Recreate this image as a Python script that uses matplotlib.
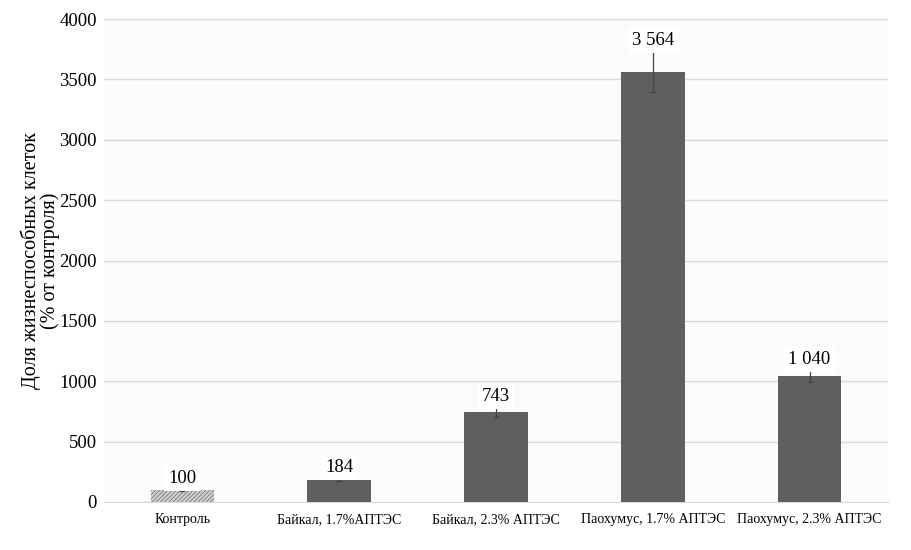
import matplotlib
matplotlib.use("Agg")
import matplotlib.pyplot as plt
import numpy as np

categories = ["Контроль", "Байкал, 1.7%АПТЭС", "Байкал, 2.3% АПТЭС",
              "Паохумус, 1.7% АПТЭС", "Паохумус, 2.3% АПТЭС"]
values = [100, 184, 743, 3564, 1040]
errors = [6, 10, 40, 170, 50]
value_labels = ["100", "184", "743", "3 564", "1 040"]
yticks = [0, 500, 1000, 1500, 2000, 2500, 3000, 3500, 4000]

plt.rcParams['font.family'] = ['Liberation Serif', 'DejaVu Serif']
plt.rcParams['hatch.linewidth'] = 0.6

fig = plt.figure(figsize=(9.12, 5.5), dpi=100)
ax = fig.add_axes([104/912, 48/550, (888-104)/912, (502-19)/550])
ax.set_facecolor('#fbfbfb')
fig.patch.set_facecolor('white')

x = np.arange(len(categories))
colors = ['#d0d0d0'] + ['#5f5f5f'] * 4
bars = ax.bar(x, values, width=0.405, color=colors, zorder=3)
bars[0].set_hatch('////////')
bars[0].set_edgecolor('#7a7a7a')
bars[0].set_linewidth(0)
ax.errorbar(x, values, yerr=errors, fmt='none', ecolor='#444444',
            elinewidth=0.9, capsize=2, capthick=0.9, zorder=4)

for xi, v, e, lab in zip(x, values, errors, value_labels):
    ax.text(xi, v + e + 20, lab, ha='center', va='bottom', fontsize=13.5,
            zorder=5, bbox=dict(facecolor='white', edgecolor='none', pad=3))

ax.set_xlim(-0.5, len(categories) - 0.5)
ax.set_ylim(0, 4000)
ax.set_yticks(yticks)
ax.set_yticklabels([str(t) for t in yticks], fontsize=13.5)
ax.set_xticks(x)
ax.set_xticklabels(categories, fontsize=10)
ax.tick_params(axis='y', length=0, pad=5)
ax.tick_params(axis='x', length=0, pad=8)
ax.grid(axis='y', color='#d9d9d9', linewidth=1, zorder=0)
for s in ['top', 'right', 'left']:
    ax.spines[s].set_visible(False)
ax.spines['bottom'].set_color('#d9d9d9')

ax.set_ylabel("Доля жизнеспособных клеток\n(% от контроля)", fontsize=14.5,
              linespacing=0.95, labelpad=0)

fig.savefig("out.png", dpi=100)
